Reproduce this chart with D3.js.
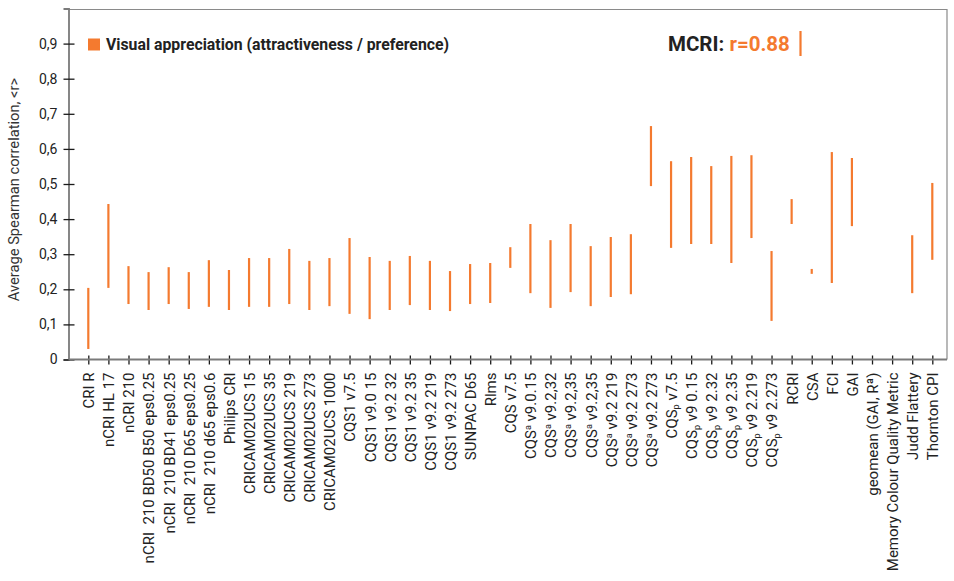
<!DOCTYPE html>
<html>
<head>
<meta charset="utf-8">
<script src="https://cdn.jsdelivr.net/npm/d3@7"></script>
<style>
  html, body { margin: 0; padding: 0; background: #fff; }
  svg { display: block; }
  text { font-family: Roboto, "Noto Sans", sans-serif; }
</style>
</head>
<body>
<svg id="chart" width="954" height="581"></svg>
<script>
const categories = [
  "CRI R", "nCRI HL 17", "nCRI 210", "nCRI  210 BD50 B50 eps0.25", "nCRI  210 BD41 eps0.25",
  "nCRI  210 D65 eps0.25", "nCRI  210 d65 eps0.6", "Philips CRI", "CRICAM02UCS 15", "CRICAM02UCS 35",
  "CRICAM02UCS 219", "CRICAM02UCS 273", "CRICAM02UCS 1000", "CQS1 v7.5", "CQS1 v9.0 15",
  "CQS1 v9.2 32", "CQS1 v9.2 35", "CQS1 v9.2 219", "CQS1 v9.2 273", "SUNPAC D65",
  "Rlms", "CQS v7.5", "CQS^a v9.0.15", "CQS^a v9.2,32", "CQS^a v9.2,35",
  "CQS^a v9.2,35 ", "CQS^a v9.2 219", "CQS^a v9.2 273", "CQS^a v9.2 273 ", "CQS_p v7.5",
  "CQS_p v9 0.15", "CQS_p v9 2.32", "CQS_p v9 2.35", "CQS_p v9 2.219", "CQS_p v9 2.273",
  "RCRI", "CSA", "FCI", "GAI", "geomean (GAI, R\u00aa)",
  "Memory Colour Quality Metric", "Judd Flattery", "Thornton CPI"
];
const lowValues = [
  0.030, 0.204, 0.158, 0.141, 0.158, 0.144, 0.150, 0.141, 0.150, 0.150,
  0.158, 0.141, 0.152, 0.130, 0.115, 0.141, 0.155, 0.141, 0.138, 0.158,
  0.161, 0.261, 0.189, 0.147, 0.192, 0.152, 0.178, 0.186, 0.494, 0.318,
  0.329, 0.329, 0.275, 0.346, 0.110, 0.386, 0.244, 0.218, 0.380, null,
  null, 0.189, 0.284
];
const highValues = [
  0.204, 0.443, 0.266, 0.249, 0.263, 0.249, 0.283, 0.255, 0.289, 0.289,
  0.315, 0.281, 0.289, 0.346, 0.292, 0.281, 0.295, 0.281, 0.252, 0.272,
  0.275, 0.320, 0.386, 0.340, 0.386, 0.323, 0.349, 0.357, 0.665, 0.565,
  0.577, 0.551, 0.580, 0.582, 0.309, 0.457, 0.258, 0.591, 0.574, null,
  null, 0.354, 0.503
];
const yTicks = [0, 0.1, 0.2, 0.3, 0.4, 0.5, 0.6, 0.7, 0.8, 0.9];
const legendLabel = "Visual appreciation (attractiveness / preference)";
const mcriLabel = "MCRI:";
const mcriValue = "r=0.88";
const yAxisLabel = "Average Spearman correlation, <r>";

(function () {
const orange = "#f47a2f";
const svg = d3.select("#chart");

const pL = 68.5, pR = 947, pT = 9.5, pB = 359.5;
const y = d3.scaleLinear().domain([0, 1]).range([pB, pT - 1]);
const x = d3.scalePoint().domain(d3.range(categories.length)).range([88.3, 932.3]);

svg.append("path")
  .attr("d", `M${pL},${pT}H${pR}V${pB}`)
  .attr("fill", "none").attr("stroke", "#8a8a8a").attr("stroke-width", 1.2);

const data = categories.map((c, i) => ({c, i, lo: lowValues[i], hi: highValues[i]})).filter(d => d.lo != null);
svg.append("g").selectAll("line").data(data).join("line")
  .attr("x1", d => x(d.i)).attr("x2", d => x(d.i))
  .attr("y1", d => y(d.lo)).attr("y2", d => y(d.hi))
  .attr("stroke", orange).attr("stroke-width", 2.2);

const yAxis = svg.append("g").attr("transform", `translate(${pL},0)`)
  .call(d3.axisLeft(y).tickValues(yTicks)
    .tickFormat(d => d === 0 ? "0" : d3.format(".1f")(d).replace(".", ","))
    .tickSize(5).tickPadding(6));
yAxis.select(".domain").attr("stroke", "#7a7a7a").attr("stroke-width", 1.8);
yAxis.selectAll(".tick line").attr("stroke", "#1a1a1a").attr("stroke-width", 1.3).attr("x2", 6).attr("x1", -5);
yAxis.selectAll(".tick text").attr("font-size", 14).attr("fill", "#222")
  .attr("font-family", "Roboto, sans-serif").attr("x", -11);

const xAxis = svg.append("g").attr("transform", `translate(0,${pB})`)
  .call(d3.axisBottom(x).tickSize(5).tickFormat(""));
xAxis.select(".domain").remove();
svg.append("line").attr("x1", pL).attr("x2", pR).attr("y1", pB).attr("y2", pB)
  .attr("stroke", "#7a7a7a").attr("stroke-width", 1.8);
xAxis.selectAll(".tick line").attr("stroke", "#1a1a1a").attr("stroke-width", 1.3).attr("y1", -4).attr("y2", 5);

const lab = svg.append("g").selectAll("text").data(categories).join("text")
  .attr("transform", (d, i) => `translate(${x(i) + 0.5},${pB + 13}) rotate(-90)`)
  .attr("text-anchor", "end").attr("dy", "0.36em")
  .attr("font-size", 15).attr("fill", "#222")
  .style("white-space", "pre");
lab.each(function(d) {
  const t = d3.select(this);
  const s = d.trim();
  const m = s.match(/^(CQS)([\^_])([ap])(.*)$/);
  if (m) {
    t.append("tspan").text(m[1]);
    const up = m[2] === "^";
    t.append("tspan").text(m[3]).attr("font-size", 9).attr("dy", up ? -5 : 2.5);
    t.append("tspan").text(m[4]).attr("dy", up ? 5 : -2.5);
  } else {
    t.text(s);
  }
});

svg.append("text")
  .attr("transform", `translate(19,${(pT + pB) / 2 + 5}) rotate(-90)`)
  .attr("text-anchor", "middle").attr("font-size", 14.7).attr("fill", "#333")
  .text(yAxisLabel);

svg.append("rect").attr("x", 88).attr("y", 38.5).attr("width", 12).attr("height", 12).attr("fill", orange);
svg.append("text").attr("x", 106).attr("y", 50).attr("font-size", 15.8).attr("font-weight", "bold")
  .attr("fill", "#222").text(legendLabel);

const mt = svg.append("text").attr("x", 668).attr("y", 51).attr("font-size", 20.5).attr("font-weight", "bold");
mt.append("tspan").attr("fill", "#222").text(mcriLabel + " ");
mt.append("tspan").attr("fill", orange).text(mcriValue);
svg.append("line").attr("x1", 800.5).attr("x2", 800.5).attr("y1", 31).attr("y2", 56)
  .attr("stroke", orange).attr("stroke-width", 2.2);
})();
</script>
</body>
</html>
